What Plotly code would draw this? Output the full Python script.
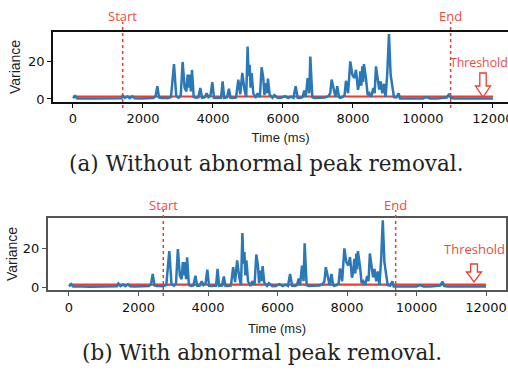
import plotly.graph_objects as go

W, H = 508, 371

# ---- data ----
time_ms = [0, 60, 120, 200, 400, 600, 800, 1000, 1200, 1380,
           1420, 1480, 1560, 1620, 1700, 1760, 1900, 2100, 2300, 2360,
           2410, 2460, 2520, 2600, 2700, 2800, 2886, 2950, 3020, 3080,
           3133, 3190, 3240, 3276, 3305, 3333, 3370, 3400, 3450, 3520,
           3580, 3638, 3690, 3760, 3819, 3870, 3930, 3981, 4030, 4100,
           4180, 4230, 4276, 4320, 4400, 4457, 4500, 4580, 4660, 4724,
           4780, 4838, 4900, 4950, 4990, 5020, 5048, 5075, 5105, 5152,
           5220, 5276, 5340, 5390, 5438, 5470, 5505, 5540, 5571, 5619,
           5700, 5752, 5850, 5950, 6057, 6150, 6229, 6300, 6362, 6420,
           6500, 6560, 6609, 6650, 6705, 6750, 6781, 6838, 6900, 7000,
           7100, 7200, 7300, 7350, 7390, 7457, 7500, 7552, 7600, 7629,
           7700, 7760, 7800, 7860, 7924, 7981, 8038, 8086, 8143, 8180,
           8210, 8240, 8267, 8290, 8314, 8371, 8420, 8467, 8520, 8581,
           8620, 8657, 8714, 8750, 8790, 8840, 8886, 8933, 8981, 9029,
           9076, 9114, 9171, 9240, 9305, 9343, 9450, 9600, 9800, 10000,
           10100, 10200, 10400, 10600, 10680, 10750, 10800, 10900, 11200, 11500,
           11800, 12000]
variance = [0.4, 1.5, 0.3, 0.2, 0.3, 0.2, 0.3, 0.2, 0.3, 0.4,
            1.8, 0.5, 1.3, 0.4, 1.4, 0.4, 0.3, 0.3, 0.5, 1.5,
            6.7, 0.8, 0.5, 0.6, 0.4, 1.0, 18.4, 1.5, 0.6, 2.0,
            19.5, 6.0, 4.0, 12.8, 6.0, 12.8, 4.0, 15.3, 1.0, 0.6,
            0.8, 5.8, 0.6, 0.8, 3.0, 1.0, 2.0, 8.9, 0.6, 0.5,
            0.8, 0.6, 9.3, 0.6, 0.8, 5.4, 0.6, 0.5, 0.8, 10.2,
            2.5, 13.7, 5.0, 1.0, 27.7, 12.0, 18.0, 6.0, 13.7, 3.0,
            0.6, 3.0, 1.0, 16.7, 11.0, 2.0, 8.4, 3.0, 10.7, 2.3,
            0.6, 2.0, 0.5, 0.6, 1.5, 0.5, 1.2, 0.6, 6.7, 0.6,
            0.5, 1.0, 4.4, 1.0, 11.0, 3.0, 22.4, 1.0, 0.5, 0.6,
            0.5, 0.8, 1.5, 3.0, 10.2, 4.0, 1.0, 6.7, 1.0, 0.6,
            1.0, 2.0, 9.6, 3.0, 19.8, 12.8, 11.0, 15.4, 4.8, 8.0,
            14.5, 7.0, 17.2, 9.0, 18.4, 11.0, 2.0, 3.0, 1.0, 5.7,
            3.0, 17.2, 11.0, 5.0, 9.3, 3.0, 8.0, 1.0, 13.7, 34.2,
            12.8, 8.0, 1.0, 0.8, 3.0, 0.3, 0.3, 0.2, 0.3, 0.3,
            1.0, 0.3, 0.3, 0.4, 0.8, 2.7, 0.5, 0.3, 0.3, 0.3,
            0.3, 0.3]

threshold_x = [0, 12000]
threshold_y = [1.3, 1.3]

start_end_a = [1420, 10790]
start_end_b = [2714, 9400]

x_ticks = [0, 2000, 4000, 6000, 8000, 10000, 12000]
x_ticktext = ["0", "2000", "4000", "6000", "8000", "10000", "12000"]
y_ticks = [0, 20]
captions = ["(a) Without abnormal peak removal.", "(b) With abnormal peak removal."]

# ---- styling ----
BLUE = "#2b78b7"
RED = "#ee3b2c"
LABEL_RED = "#f04a3c"


def px(x):
    return x / W


def py(y):
    return 1 - y / H


fig = go.Figure()
for i, ax in enumerate(["", "2"]):
    fig.add_trace(go.Scatter(x=threshold_x, y=threshold_y, mode="lines",
                             line=dict(color=RED, width=2.2),
                             xaxis="x" + ax, yaxis="y" + ax, showlegend=False))
    fig.add_trace(go.Scatter(x=time_ms, y=variance, mode="lines",
                             line=dict(color=BLUE, width=2.5),
                             xaxis="x" + ax, yaxis="y" + ax, showlegend=False))

axis_common = dict(showgrid=False, zeroline=False, showline=True, mirror=True,
                   ticks="outside", ticklen=4, tickwidth=1.2,
                   ticklabeloverflow="allow", automargin=False,
                   tickfont=dict(family="DejaVu Sans", size=13, color="#111"))

xt_font = dict(family="Liberation Sans", size=13, color="#222")
yt_font = dict(family="Liberation Sans", size=14, color="#222")

fig.update_layout(
    width=W, height=H, margin=dict(l=0, r=0, t=0, b=0, autoexpand=False),
    paper_bgcolor="white", plot_bgcolor="white",
    xaxis=dict(domain=[px(53), 1.0], range=[-571, 12430], anchor="y",
               tickvals=x_ticks, ticktext=x_ticktext,
               linecolor="#111", linewidth=1.5, tickcolor="#111",
               title=dict(text="Time (ms)", standoff=8, font=xt_font),
               **axis_common),
    yaxis=dict(domain=[py(102), py(32)], range=[-1.6, 35.3], anchor="x",
               tickvals=y_ticks, linecolor="#111", linewidth=1.5, tickcolor="#111",
               title=dict(text="Variance", standoff=4, font=yt_font),
               **axis_common),
    xaxis2=dict(domain=[px(48), px(506)], range=[-604, 12575], anchor="y2",
                tickvals=x_ticks, ticktext=x_ticktext,
                linecolor="#555", linewidth=2, tickcolor="#555",
                title=dict(text="Time (ms)", standoff=10, font=xt_font),
                **axis_common),
    yaxis2=dict(domain=[py(290), py(218)], range=[-1.5, 35.4], anchor="x2",
                tickvals=y_ticks, linecolor="#555", linewidth=2, tickcolor="#555",
                title=dict(text="Variance", standoff=2, font=yt_font),
                **axis_common),
)

# Start / End dotted markers
markers = [("x", start_end_a, 22, 108, 16), ("x2", start_end_b, 210, 296, 205)]
for xref, (s, e), ytop, ybot, ylab in markers:
    for xv, lab in [(s, "Start"), (e, "End")]:
        fig.add_shape(type="line", xref=xref, yref="paper", x0=xv, x1=xv,
                      y0=py(ybot), y1=py(ytop),
                      line=dict(color=RED, width=1.5, dash="dot"))
        fig.add_annotation(x=xv, y=py(ylab), xref=xref, yref="paper", text=lab,
                           showarrow=False, yanchor="middle", xanchor="center",
                           font=dict(family="Open Sans", size=13, color=LABEL_RED))

# Threshold labels and hollow arrows
thr = [(479, 63, 483, 73, 86, 97, 3.2, 7.5, 12.3), (474, 249, 474, 264, 272, 282, 3.4, 7.5, 13)]
for tx, ty, ax_, y0, y1, y2, sw, hw, fs in thr:
    fig.add_annotation(x=px(tx), y=py(ty), xref="paper", yref="paper", text="Threshold",
                       showarrow=False, yanchor="middle", xanchor="center",
                       font=dict(family="Open Sans", size=fs, color=LABEL_RED))
    path = (f"M {px(ax_-sw)},{py(y0)} L {px(ax_+sw)},{py(y0)} L {px(ax_+sw)},{py(y1)} "
            f"L {px(ax_+hw)},{py(y1)} L {px(ax_)},{py(y2)} L {px(ax_-hw)},{py(y1)} "
            f"L {px(ax_-sw)},{py(y1)} Z")
    fig.add_shape(type="path", xref="paper", yref="paper", path=path,
                  line=dict(color=RED, width=1.3), fillcolor="white")

# captions
for cap, cx, cy in [(captions[0], 266, 164), (captions[1], 262, 352)]:
    fig.add_annotation(x=px(cx), y=py(cy), xref="paper", yref="paper", text=cap,
                       showarrow=False, yanchor="middle",
                       font=dict(family="DejaVu Serif", size=21.5, color="#222"))

fig.write_html("out.html")
